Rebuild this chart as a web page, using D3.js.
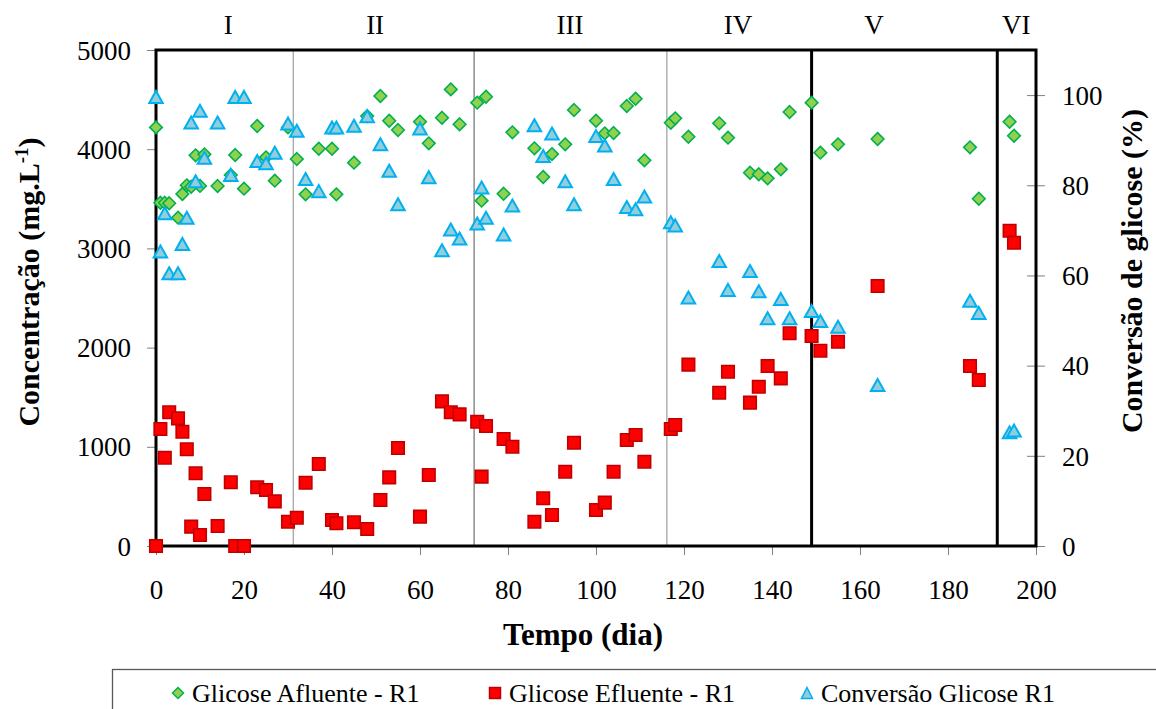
<!DOCTYPE html>
<html>
<head>
<meta charset="utf-8">
<script src="https://cdn.jsdelivr.net/npm/d3@7"></script>
<style>
  html, body { margin: 0; padding: 0; background: #fff; }
  svg { display: block; }
  text { font-family: "Liberation Serif", "Times New Roman", serif; fill: #000; }
</style>
</head>
<body>
<svg id="chart" width="1156" height="709"></svg>
<script>
// Operating days of reactor R1
const days = [0, 1, 2, 3, 5, 6, 7, 8, 9, 10, 11, 14, 17, 18, 20, 23, 25, 27, 30, 32, 34, 37, 40, 41, 45, 48, 51, 53, 55, 60, 62, 65, 67, 69, 73, 74, 75, 79, 81, 86, 88, 90, 93, 95, 100, 102, 104, 107, 109, 111, 117, 118, 121, 128, 130, 135, 137, 139, 142, 144, 149, 151, 155, 164, 185, 187, 194, 195];

// Influent glucose (mg/L)
const afluente = [4220, 3460, 3460, 3455, 3310, 3548, 3636, 3622, 3938, 3630, 3948, 3629, 3740, 3941, 3602, 4234, 3918, 3683, 4220, 3901, 3545, 4005, 4005, 3545, 3864, 4334, 4536, 4287, 4193, 4277, 4059, 4317, 4603, 4251, 4469, 3481, 4529, 3551, 4170, 4009, 3720, 3951, 4049, 4395, 4287, 4160, 4163, 4435, 4509, 3888, 4267, 4311, 4126, 4261, 4116, 3763, 3747, 3706, 3797, 4375, 4469, 3965, 4049, 4103, 4019, 3501, 4277, 4136];

// Effluent glucose (mg/L)
const efluente = [0, 1179, 890, 1348, 1287, 1152, 975, 195, 733, 111, 524, 202, 642, 0, 0, 592, 564, 450, 245, 285, 638, 827, 262, 229, 239, 171, 464, 692, 988, 296, 716, 1458, 1348, 1327, 1253, 699, 1210, 1079, 1001, 245, 481, 312, 749, 1041, 363, 437, 749, 1068, 1119, 850, 1179, 1220, 1828, 1545, 1757, 1445, 1606, 1814, 1690, 2144, 2117, 1969, 2059, 2621, 1814, 1673, 3178, 3057];

// Glucose conversion (%)
const conversao = [99.6, 65.3, 73.8, 60.5, 60.5, 67.0, 72.8, 93.9, 80.9, 96.5, 86.1, 93.9, 82.3, 99.6, 99.6, 85.4, 84.9, 87.2, 93.7, 92.1, 81.4, 78.7, 92.8, 92.8, 93.2, 95.3, 89.1, 83.2, 75.8, 92.6, 81.8, 65.6, 70.2, 68.2, 71.5, 79.5, 72.8, 69.1, 75.5, 93.3, 86.5, 91.5, 80.9, 75.8, 90.9, 88.8, 81.4, 75.2, 74.7, 77.5, 71.8, 71.1, 55.1, 63.2, 56.8, 61.0, 56.5, 50.5, 54.8, 50.5, 52.1, 49.9, 48.6, 35.7, 54.4, 51.7, 25.2, 25.6];

// Operating phases: boundaries (day) and label anchor days
const phaseNames = ["I", "II", "III", "IV", "V", "VI"];
const phaseLabelDays = [16.4, 49.8, 94.1, 132.3, 163.2, 195.5];
const phaseBounds = [31.2, 72.3, 116.1, 149, 191.2];
const phaseMajor = [false, false, false, true, true];

const xTicks = [0, 20, 40, 60, 80, 100, 120, 140, 160, 180, 200];
const yTicks = [0, 1000, 2000, 3000, 4000, 5000];
const y2Ticks = [0, 20, 40, 60, 80, 100];

const legendLabels = ["Glicose Afluente - R1", "Glicose Efluente - R1", "Conversão Glicose R1"];

const serif = "'Liberation Serif', 'Times New Roman', serif";
const svg = d3.select("#chart");
const plotLeft = 156, plotRight = 1036, plotTop = 50, plotBottom = 546;

const x = d3.scaleLinear().domain([0, 200]).range([plotLeft, plotRight]);
const y = d3.scaleLinear().domain([0, 5000]).range([plotBottom, plotTop]);
const y2 = d3.scaleLinear().domain([0, 110]).range([plotBottom, plotTop]);

const tickColor = "#7f7f7f";
const tickFont = 27;

// Left axis
const gL = svg.append("g").attr("transform", `translate(${plotLeft},0)`)
  .call(d3.axisLeft(y).tickValues(yTicks).tickSize(9).tickPadding(16).tickFormat(d3.format("d")));
gL.select(".domain").remove();
gL.selectAll(".tick line").attr("stroke", tickColor);
gL.selectAll(".tick text").style("font-size", tickFont + "px").style("font-family", serif).attr("dy", "0.34em");

// Bottom axis
const gB = svg.append("g").attr("transform", `translate(0,${plotBottom})`)
  .call(d3.axisBottom(x).tickValues(xTicks).tickSize(9).tickPadding(25).tickFormat(d3.format("d")));
gB.select(".domain").remove();
gB.selectAll(".tick line").attr("stroke", tickColor);
gB.selectAll(".tick text").style("font-size", tickFont + "px").style("font-family", serif);

// Right axis (ticks cross the axis line)
const gR = svg.append("g").attr("transform", `translate(${plotRight},0)`)
  .call(d3.axisRight(y2).tickValues(y2Ticks).tickSize(9).tickPadding(17).tickFormat(d3.format("d")));
gR.select(".domain").remove();
gR.selectAll(".tick line").attr("stroke", tickColor).attr("x1", -9);
gR.selectAll(".tick text").style("font-size", tickFont + "px").style("font-family", serif).attr("dy", "0.34em");

// Phase separators
svg.append("g").selectAll("line").data(phaseBounds).join("line")
  .attr("x1", d => x(d)).attr("x2", d => x(d))
  .attr("y1", plotTop).attr("y2", plotBottom)
  .attr("stroke", (d, i) => phaseMajor[i] ? "#000" : (i === 1 ? "#7a7a7a" : "#a6a6a6"))
  .attr("stroke-width", (d, i) => phaseMajor[i] ? 3 : 1.3);

// Phase labels
svg.append("g").selectAll("text").data(phaseNames).join("text")
  .attr("x", (d, i) => x(phaseLabelDays[i]))
  .attr("y", 34)
  .attr("text-anchor", "middle")
  .style("font-family", serif)
  .style("font-size", "27px")
  .text(d => d);

// Plot frame
svg.append("rect")
  .attr("x", plotLeft).attr("y", plotTop)
  .attr("width", plotRight - plotLeft).attr("height", plotBottom - plotTop)
  .attr("fill", "none").attr("stroke", "#000").attr("stroke-width", 3);

// Marker shapes
const diamondPath = r => `M0,${-r}L${r},0L0,${r}L${-r},0Z`;
const squarePath = s => `M${-s / 2},${-s / 2}h${s}v${s}h${-s}Z`;
const trianglePath = (w, h) => `M0,${-h / 2}L${w / 2},${h / 2}L${-w / 2},${h / 2}Z`;

const styles = {
  afl: { fill: "#92D050", stroke: "#00B050", sw: 1.6 },
  efl: { fill: "#FF0000", stroke: "#C00000", sw: 1.6 },
  conv: { fill: "#92CDDC", stroke: "#00B0F0", sw: 2 }
};

const idx = d3.range(days.length);

svg.append("g").selectAll("path").data(idx).join("path")
  .attr("transform", i => `translate(${x(days[i])},${y(afluente[i])})`)
  .attr("d", diamondPath(6.3))
  .attr("fill", styles.afl.fill).attr("stroke", styles.afl.stroke).attr("stroke-width", styles.afl.sw);

svg.append("g").selectAll("path").data(idx).join("path")
  .attr("transform", i => `translate(${x(days[i])},${y(efluente[i])})`)
  .attr("d", squarePath(12.5))
  .attr("fill", styles.efl.fill).attr("stroke", styles.efl.stroke).attr("stroke-width", styles.efl.sw);

svg.append("g").selectAll("path").data(idx).join("path")
  .attr("transform", i => `translate(${x(days[i])},${y2(conversao[i])})`)
  .attr("d", trianglePath(13.5, 12))
  .attr("fill", styles.conv.fill).attr("stroke", styles.conv.stroke).attr("stroke-width", styles.conv.sw)
  .attr("stroke-linejoin", "miter");

// Axis titles
svg.append("text")
  .attr("x", 583).attr("y", 645)
  .attr("text-anchor", "middle")
  .style("font-family", serif).style("font-size", "31px").style("font-weight", "bold")
  .text("Tempo (dia)");

const yTitle = svg.append("text")
  .attr("transform", `translate(39,282) rotate(-90)`)
  .attr("text-anchor", "middle")
  .style("font-family", serif).style("font-size", "30px").style("font-weight", "bold");
yTitle.append("tspan").text("Concentração (mg.L");
yTitle.append("tspan").style("font-size", "19px").attr("dy", -11).text("-1");
yTitle.append("tspan").attr("dy", 11).text(")");

svg.append("text")
  .attr("transform", `translate(1142,271) rotate(-90)`)
  .attr("text-anchor", "middle")
  .style("font-family", serif).style("font-size", "30px").style("font-weight", "bold")
  .text("Conversão de glicose (%)");

// Legend
svg.append("rect")
  .attr("x", 112.5).attr("y", 669.5).attr("width", 1060).attr("height", 60)
  .attr("fill", "none").attr("stroke", "#595959").attr("stroke-width", 1.3);

const legendX = [178, 495, 807];
const legendShapes = [
  { d: diamondPath(5.5), s: styles.afl },
  { d: squarePath(11), s: styles.efl },
  { d: trianglePath(11, 11), s: styles.conv }
];
const lg = svg.append("g").selectAll("g").data(legendLabels).join("g")
  .attr("transform", (d, i) => `translate(${legendX[i]},693)`);
lg.append("path")
  .attr("d", (d, i) => legendShapes[i].d)
  .attr("fill", (d, i) => legendShapes[i].s.fill)
  .attr("stroke", (d, i) => legendShapes[i].s.stroke)
  .attr("stroke-width", 1.5);
lg.append("text")
  .attr("x", 14).attr("y", 9)
  .style("font-family", serif).style("font-size", "26px")
  .text(d => d);
</script>
</body>
</html>
